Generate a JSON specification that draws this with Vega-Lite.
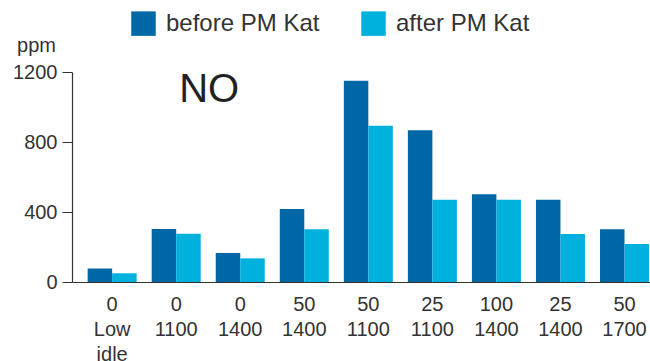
{
  "$schema": "https://vega.github.io/schema/vega-lite/v6.json",
  "width": 578,
  "height": 210,
  "autosize": {"type": "none"},
  "padding": {"left": 72, "top": 72, "right": 0, "bottom": 79},
  "background": "white",
  "config": {
    "view": {"stroke": null},
    "font": "Liberation Sans"
  },
  "datasets": {
    "emissions": [
      {"cond": "0|Low|idle", "stage": "before PM Kat", "ppm": 77},
      {"cond": "0|Low|idle", "stage": "after PM Kat", "ppm": 50},
      {"cond": "0|1100", "stage": "before PM Kat", "ppm": 303},
      {"cond": "0|1100", "stage": "after PM Kat", "ppm": 276},
      {"cond": "0|1400", "stage": "before PM Kat", "ppm": 166},
      {"cond": "0|1400", "stage": "after PM Kat", "ppm": 135},
      {"cond": "50|1400", "stage": "before PM Kat", "ppm": 417},
      {"cond": "50|1400", "stage": "after PM Kat", "ppm": 302},
      {"cond": "50|1100", "stage": "before PM Kat", "ppm": 1150},
      {"cond": "50|1100", "stage": "after PM Kat", "ppm": 893},
      {"cond": "25|1100", "stage": "before PM Kat", "ppm": 867},
      {"cond": "25|1100", "stage": "after PM Kat", "ppm": 470},
      {"cond": "100|1400", "stage": "before PM Kat", "ppm": 501},
      {"cond": "100|1400", "stage": "after PM Kat", "ppm": 470},
      {"cond": "25|1400", "stage": "before PM Kat", "ppm": 470},
      {"cond": "25|1400", "stage": "after PM Kat", "ppm": 274},
      {"cond": "50|1700", "stage": "before PM Kat", "ppm": 301},
      {"cond": "50|1700", "stage": "after PM Kat", "ppm": 217}
    ],
    "gas": [
      {"cond": "0|1100", "ppm": 1030, "text": "NO"}
    ]
  },
  "layer": [
    {
      "data": {"name": "emissions"},
      "mark": {"type": "bar"},
      "encoding": {
        "x": {
          "field": "cond",
          "type": "nominal",
          "sort": null,
          "scale": {"paddingInner": 0.235, "paddingOuter": 0.13, "align": 0.94},
          "axis": {
            "title": null,
            "ticks": false,
            "labelAngle": 0,
            "labelExpr": "split(datum.label, '|')",
            "labelFontSize": 20,
            "labelLineHeight": 25,
            "labelPadding": 12,
            "labelColor": "#333333",
            "domainColor": "#333333",
            "domainWidth": 1.2
          }
        },
        "xOffset": {
          "field": "stage",
          "type": "nominal",
          "sort": ["before PM Kat", "after PM Kat"]
        },
        "y": {
          "field": "ppm",
          "type": "quantitative",
          "scale": {"domain": [0, 1200]},
          "axis": {
            "values": [0, 400, 800, 1200],
            "format": "d",
            "grid": false,
            "tickSize": 10,
            "tickColor": "#333333",
            "domainColor": "#333333",
            "domainWidth": 1.2,
            "labelPadding": 5,
            "labelFontSize": 20,
            "labelColor": "#333333",
            "title": "ppm",
            "titleAngle": 0,
            "titleFontSize": 20,
            "titleFontWeight": "normal",
            "titleColor": "#333333",
            "titleAlign": "center",
            "titleBaseline": "alphabetic",
            "titleX": -36,
            "titleY": -21
          }
        },
        "color": {
          "field": "stage",
          "type": "nominal",
          "sort": ["before PM Kat", "after PM Kat"],
          "scale": {
            "domain": ["before PM Kat", "after PM Kat"],
            "range": ["#0067a6", "#00b0dd"]
          },
          "legend": {
            "title": null,
            "orient": "none",
            "direction": "horizontal",
            "legendX": 59,
            "legendY": -61,
            "symbolType": "square",
            "symbolSize": 600,
            "symbolStrokeWidth": 0,
            "labelFontSize": 24,
            "labelColor": "#333333",
            "labelOffset": 10,
            "columnPadding": 41
          }
        }
      }
    },
    {
      "data": {"name": "gas"},
      "mark": {"type": "text", "align": "left", "baseline": "alphabetic", "fontSize": 40, "color": "#222222"},
      "encoding": {
        "x": {"field": "cond", "type": "nominal", "sort": null, "bandPosition": 0.56},
        "y": {"field": "ppm", "type": "quantitative"},
        "text": {"field": "text"}
      }
    }
  ]
}
